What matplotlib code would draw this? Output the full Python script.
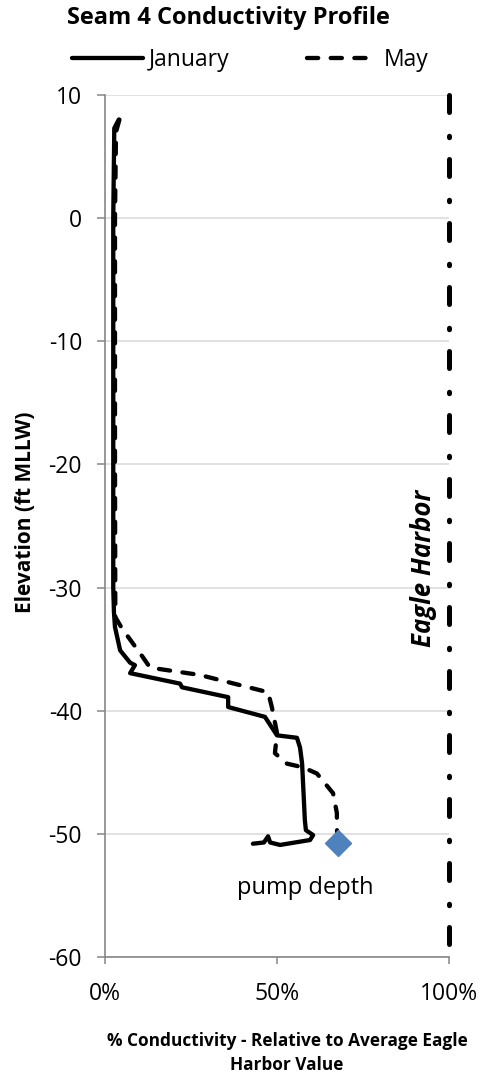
import matplotlib
matplotlib.use("Agg")
import matplotlib.pyplot as plt
from matplotlib.ticker import FuncFormatter

plt.rcParams['font.family'] = ['Open Sans', 'DejaVu Sans']
plt.rcParams['axes.unicode_minus'] = False

# --- data (x in % of Eagle Harbor, y in ft MLLW) ---
jan_pct = [4.0, 2.7, 2.4, 2.4, 2.4, 2.6, 2.9, 4.4, 7.3, 8.7, 7.3, 21.8, 22.4,
           35.8, 35.8, 46.5, 50.0, 55.8, 56.7, 57.3, 58.1, 58.4, 60.5, 59.6,
           50.9, 48.0, 47.4, 46.2, 43.0]
jan_elev = [8.0, 7.3, 0.0, -20.0, -30.0, -32.0, -33.2, -35.1, -36.1, -36.3,
            -36.95, -37.8, -38.1, -38.9, -39.7, -40.5, -42.0, -42.2, -43.0,
            -44.3, -48.9, -49.7, -50.1, -50.5, -50.9, -50.7, -50.2, -50.7,
            -50.8]

may_pct = [4.2, 3.2, 2.9, 2.9, 3.0, 4.9, 11.0, 13.1, 27.6, 47.4, 48.5, 50.0,
           49.4, 52.9, 57.6, 61.6, 66.3, 67.4, 67.4, 67.7]
may_elev = [8.0, 7.0, 0.0, -20.0, -32.4, -33.3, -35.65, -36.5, -37.1, -38.5,
            -39.7, -41.8, -43.45, -44.3, -44.6, -45.1, -46.7, -48.3, -49.5,
            -50.8]

pump_pct = [67.7]
pump_elev = [-50.75]

harbor_pct = [100, 100]
harbor_elev = [10, -60]

y_ticks = [10, 0, -10, -20, -30, -40, -50, -60]
x_ticks = [0, 50, 100]

fig = plt.figure(figsize=(4.83, 10.79), dpi=100)
ax = fig.add_axes([105 / 483, 1 - 957 / 1079, 344 / 483, 862 / 1079])

ax.plot(jan_pct, jan_elev, color='black', lw=3.1, solid_capstyle='round',
        solid_joinstyle='round', label='January')
ax.plot(may_pct, may_elev, color='black', lw=3.1, dashes=(2.6, 2.9),
        dash_capstyle='round', dash_joinstyle='round', label='May')
ax.plot(harbor_pct, harbor_elev, color='black', lw=3.6,
        dashes=(3.4, 4.75, 0.3, 4.35), dash_capstyle='round', clip_on=False)
ax.plot(pump_pct, pump_elev, linestyle='none', marker='D', markersize=13.5,
        color='#4F81BD', markeredgecolor='#4F81BD', clip_on=False, zorder=5)

ax.text(58.1, -54.4, 'pump depth', fontsize=17, ha='center', va='center')
ax.text(92.6, -28.4, 'Eagle Harbor', fontsize=18.5, fontweight='bold',
        fontstyle='italic', rotation=90, ha='center', va='center')

ax.set_xlim(0, 100)
ax.set_ylim(-60, 10)
ax.set_xticks(x_ticks)
ax.set_yticks(y_ticks)
ax.xaxis.set_major_formatter(FuncFormatter(lambda v, _: f"{v:.0f}%"))
ax.grid(axis='y', color='#d9d9d9', lw=1.1)
ax.set_axisbelow(True)
for s in ['top', 'right']:
    ax.spines[s].set_visible(False)
for s in ['left', 'bottom']:
    ax.spines[s].set_color('#868686')
    ax.spines[s].set_linewidth(1.2)
ax.tick_params(axis='y', length=5.5, width=1.1, color='#868686', pad=11,
               labelsize=16.5)
ax.tick_params(axis='x', length=5, width=1.1, color='#868686', pad=13,
               labelsize=16.5)

fig.text(228 / 483, 1 - 18 / 1079, 'Seam 4 Conductivity Profile',
         fontsize=17, fontweight='bold', ha='center', va='center')
fig.text(26 / 483, 1 - 512 / 1079, 'Elevation (ft MLLW)', fontsize=15,
         fontweight='bold', rotation=90, ha='center', va='center')
fig.text(287 / 483, 1 - 1053 / 1079,
         '% Conductivity - Relative to Average Eagle\nHarbor Value',
         fontsize=12.4, fontweight='bold', ha='center', va='center',
         linespacing=1.4)

# legend drawn as a one-row strip above the plot
leg = fig.legend(handles=ax.get_lines()[:2], loc='center',
                 bbox_to_anchor=(250 / 483, 1 - 60 / 1079), ncol=2,
                 frameon=False, fontsize=16.5, handlelength=3.1,
                 handletextpad=0.25, columnspacing=3.4, borderpad=0.2)

fig.savefig('out.png', dpi=100)
